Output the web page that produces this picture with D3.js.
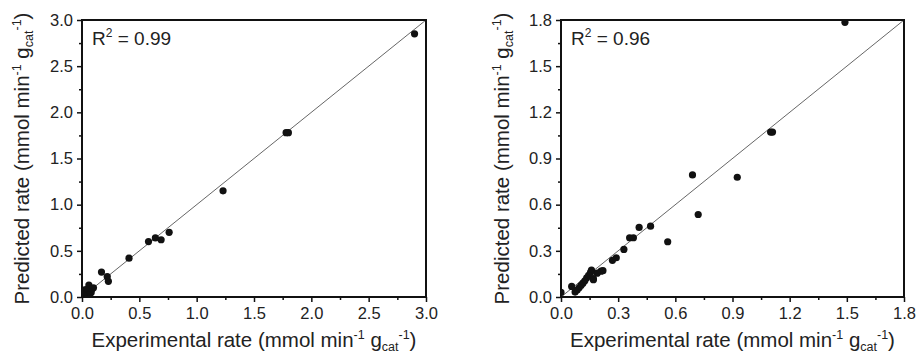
<!DOCTYPE html>
<html>
<head>
<meta charset="utf-8">
<script src="https://cdn.jsdelivr.net/npm/d3@7"></script>
<style>
  body { margin: 0; background: #fff; }
  svg { font-family: "Liberation Sans", Arial, sans-serif; }
</style>
</head>
<body>
<div id="chart"></div>
<script>
// left panel data
const leftExp  = [2.90, 1.78, 1.80, 1.23, 0.76, 0.69, 0.64, 0.58, 0.41, 0.23, 0.22, 0.17, 0.06, 0.10, 0.09, 0.07, 0.05, 0.04, 0.03, 0.02, 0.08, 0.06, 0.015];
const leftPred = [2.85, 1.78, 1.78, 1.15, 0.70, 0.62, 0.64, 0.60, 0.42, 0.17, 0.22, 0.27, 0.13, 0.10, 0.09, 0.04, 0.06, 0.04, 0.08, 0.03, 0.05, 0.02, 0.02];
const leftTicks = [0, 0.5, 1.0, 1.5, 2.0, 2.5, 3.0];
const leftR2 = "0.99";

// right panel data
const rightExp  = [1.49, 1.10, 1.11, 0.925, 0.69, 0.72, 0.56, 0.47, 0.41, 0.36, 0.38, 0.33, 0.29, 0.27, 0.22, 0.21, 0.19, 0.17, 0.17, 0.16, 0.155, 0.145, 0.135, 0.125, 0.115, 0.105, 0.095, 0.085, 0.074, 0.056, 0.0];
const rightPred = [1.785, 1.072, 1.072, 0.778, 0.793, 0.536, 0.359, 0.46, 0.452, 0.385, 0.385, 0.309, 0.255, 0.238, 0.171, 0.168, 0.155, 0.112, 0.119, 0.175, 0.16, 0.14, 0.125, 0.105, 0.09, 0.075, 0.06, 0.045, 0.032, 0.069, 0.03];
const rightTicks = [0, 0.3, 0.6, 0.9, 1.2, 1.5, 1.8];
const rightR2 = "0.96";

const svg = d3.select('#chart')
  .append('svg')
  .attr('width', 917)
  .attr('height', 356);

function drawPanel(id, left, right, exp, pred, ticks, r2, titleX) {
  const top = 20, bottom = 297;
  const max = ticks[ticks.length - 1];
  const step = ticks[1] - ticks[0];
  const minor = ticks.slice(0, -1).map(t => t + step / 2);

  const x = d3.scaleLinear().domain([0, max]).range([left, right]);
  const y = d3.scaleLinear().domain([0, max]).range([bottom, top]);

  const g = svg.append('g');

  g.append('clipPath').attr('id', 'clip' + id)
    .append('rect')
    .attr('x', left).attr('y', top)
    .attr('width', right - left).attr('height', bottom - top);

  // y = x line
  g.append('line')
    .attr('x1', x(0)).attr('y1', y(0))
    .attr('x2', x(max)).attr('y2', y(max))
    .attr('stroke', '#555')
    .attr('stroke-width', 0.9);

  g.append('g')
    .attr('clip-path', 'url(#clip' + id + ')')
    .selectAll('circle')
    .data(exp.map((d, i) => [d, pred[i]]))
    .join('circle')
    .attr('cx', d => x(d[0]))
    .attr('cy', d => y(d[1]))
    .attr('r', 3.6)
    .attr('fill', '#111');

  // frame
  g.append('rect')
    .attr('x', left).attr('y', top)
    .attr('width', right - left).attr('height', bottom - top)
    .attr('fill', 'none')
    .attr('stroke', '#111')
    .attr('stroke-width', 2);

  const fmt = d3.format('.1f');

  const styleAxis = sel => {
    sel.select('.domain').remove();
    sel.selectAll('line').attr('stroke', '#111').attr('stroke-width', 1.5);
    sel.selectAll('text').attr('fill', '#222').style('font-size', '16.5px').style('font-family', '"Liberation Sans", Arial, sans-serif');
  };

  g.append('g')
    .attr('transform', 'translate(0,' + bottom + ')')
    .call(d3.axisBottom(x).tickValues(ticks).tickFormat(fmt).tickSize(5).tickPadding(5))
    .call(styleAxis);
  g.append('g')
    .attr('transform', 'translate(0,' + bottom + ')')
    .call(d3.axisBottom(x).tickValues(minor).tickFormat('').tickSize(3))
    .call(styleAxis);

  g.append('g')
    .attr('transform', 'translate(' + left + ',0)')
    .call(d3.axisLeft(y).tickValues(ticks).tickFormat(fmt).tickSize(5).tickPadding(4))
    .call(styleAxis);
  g.append('g')
    .attr('transform', 'translate(' + left + ',0)')
    .call(d3.axisLeft(y).tickValues(minor).tickFormat('').tickSize(3))
    .call(styleAxis);

  // R² annotation
  const r = g.append('text')
    .attr('x', left + 10).attr('y', top + 25)
    .attr('fill', '#222')
    .style('font-size', '19px');
  r.append('tspan').text('R');
  r.append('tspan').attr('dy', -8).style('font-size', '12px').text('2');
  r.append('tspan').attr('dy', 8).text(' = ' + r2);

  // unit label helper
  const unit = (t) => {
    t.append('tspan').text(t.attr('data-label') + ' (mmol min');
    t.append('tspan').attr('dy', -8).style('font-size', '12.5px').text('-1');
    t.append('tspan').attr('dy', 8).text(' g');
    t.append('tspan').attr('dy', 4).style('font-size', '12.5px').text('cat');
    t.append('tspan').attr('dy', -12).style('font-size', '12.5px').text('-1');
    t.append('tspan').attr('dy', 8).text(')');
  };

  g.append('text')
    .attr('data-label', 'Experimental rate')
    .attr('x', (left + right) / 2).attr('y', 347)
    .attr('text-anchor', 'middle')
    .attr('fill', '#222')
    .style('font-size', '20.5px')
    .call(unit);

  g.append('text')
    .attr('data-label', 'Predicted rate')
    .attr('transform', 'translate(' + titleX + ',' + ((top + bottom) / 2) + ') rotate(-90)')
    .attr('text-anchor', 'middle')
    .attr('fill', '#222')
    .style('font-size', '20.5px')
    .call(unit);
}

drawPanel('L', 82, 426, leftExp, leftPred, leftTicks, leftR2, 29);
drawPanel('R', 561, 904, rightExp, rightPred, rightTicks, rightR2, 509);
</script>
</body>
</html>
